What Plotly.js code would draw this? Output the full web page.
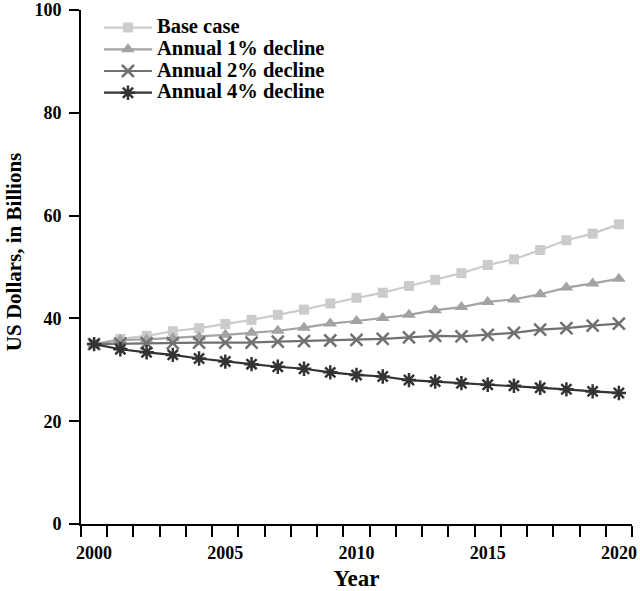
<!DOCTYPE html>
<html>
<head>
<meta charset="utf-8">
<script src="https://cdn.plot.ly/plotly-3.0.1.min.js"></script>
<style>
html,body{margin:0;padding:0;background:#fff;}
#chart{width:640px;height:591px;}
</style>
</head>
<body>
<div id="chart"></div>
<script>
var years = [2000,2001,2002,2003,2004,2005,2006,2007,2008,2009,2010,2011,2012,2013,2014,2015,2016,2017,2018,2019,2020];
var baseCase = [35.0,36.0,36.6,37.5,38.1,38.9,39.7,40.7,41.7,42.9,44.0,45.0,46.3,47.5,48.8,50.4,51.5,53.3,55.2,56.5,58.3];
var decline1 = [35.0,35.8,35.9,36.2,36.4,36.8,37.2,37.6,38.2,39.0,39.5,40.1,40.7,41.6,42.2,43.2,43.7,44.7,46.0,46.8,47.7];
var decline2 = [35.0,35.1,35.2,35.2,35.3,35.3,35.3,35.5,35.6,35.7,35.8,36.0,36.3,36.6,36.5,36.8,37.2,37.8,38.1,38.6,39.0];
var decline4 = [35.0,34.0,33.4,32.9,32.2,31.6,31.1,30.6,30.2,29.5,29.0,28.7,28.0,27.7,27.4,27.1,26.9,26.5,26.2,25.8,25.5];
var seriesNames = ["Base case","Annual 1% decline","Annual 2% decline","Annual 4% decline"];
var xTickVals = [2000,2005,2010,2015,2020];
var yTickVals = [0,20,40,60,80,100];
var xTitle = "Year";
var yTitle = "US Dollars, in Billions";

var FONT = "'Liberation Serif', 'Times New Roman', serif";
function legendLabel(s) { return '<span style="font-size:20.5px">' + s + '</span>'; }

var traces = [
  {x: years, y: baseCase, name: legendLabel(seriesNames[0]), mode: 'lines+markers',
   line: {color: '#cbcbcb', width: 2.2},
   marker: {symbol: 'square', size: 10, color: '#cbcbcb'}},
  {x: years, y: decline1, name: legendLabel(seriesNames[1]), mode: 'lines+markers',
   line: {color: '#a3a3a3', width: 2.2},
   marker: {symbol: 'triangle-up', size: 12, color: '#a3a3a3'}},
  {x: years, y: decline2, name: legendLabel(seriesNames[2]), mode: 'lines+markers',
   line: {color: '#717171', width: 2.2},
   marker: {symbol: 'x-thin-open', size: 12, color: '#717171', line: {color: '#717171', width: 2.5}}},
  {x: years, y: decline4, name: legendLabel(seriesNames[3]), mode: 'lines+markers',
   line: {color: '#333333', width: 2.2},
   marker: {symbol: 'asterisk-open', size: 12, color: '#333333', line: {color: '#333333', width: 2.5}}}
];

var layout = {
  width: 640, height: 591,
  margin: {l: 81, r: 8, t: 10, b: 67},
  paper_bgcolor: '#fff', plot_bgcolor: '#fff',
  font: {family: FONT, color: '#000', size: 18, weight: 'bold'},
  showlegend: true,
  legend: {
    x: 0.0326, y: 0.9967, xanchor: 'left', yanchor: 'top',
    bgcolor: 'rgba(0,0,0,0)', borderwidth: 0,
    font: {family: FONT, size: 14.4, color: '#000', weight: 'bold'},
    itemwidth: 48
  },
  xaxis: {
    range: [1999.5, 2020.5],
    tickmode: 'array', tickvals: xTickVals,
    ticks: 'outside', ticklen: 11, tickcolor: 'rgba(0,0,0,0)', tickwidth: 2,
    showline: true, linecolor: '#000', linewidth: 2,
    showgrid: false, zeroline: false,
    tickfont: {family: FONT, size: 18, color: '#000', weight: 'bold'},
    minor: {tick0: 1999.5, dtick: 1, ticks: 'outside', ticklen: 11, tickwidth: 2, tickcolor: '#000', showgrid: false},
    title: {text: xTitle, font: {family: FONT, size: 23, color: '#000', weight: 'bold'}, standoff: 15}
  },
  yaxis: {
    range: [0, 100],
    tickmode: 'array', tickvals: yTickVals,
    ticks: 'outside', ticklen: 10, tickwidth: 2, tickcolor: '#000',
    ticklabelstandoff: 4,
    showline: true, linecolor: '#000', linewidth: 2,
    showgrid: false, zeroline: false,
    tickfont: {family: FONT, size: 18, color: '#000', weight: 'bold'}
  },
  annotations: [{
    text: yTitle, xref: 'paper', yref: 'paper',
    x: -0.1215, y: 0.529, xanchor: 'center', yanchor: 'middle',
    textangle: -90, showarrow: false,
    font: {family: FONT, size: 21, color: '#000', weight: 'bold'}
  }]
};

Plotly.newPlot('chart', traces, layout, {displayModeBar: false, staticPlot: true});
</script>
</body>
</html>
